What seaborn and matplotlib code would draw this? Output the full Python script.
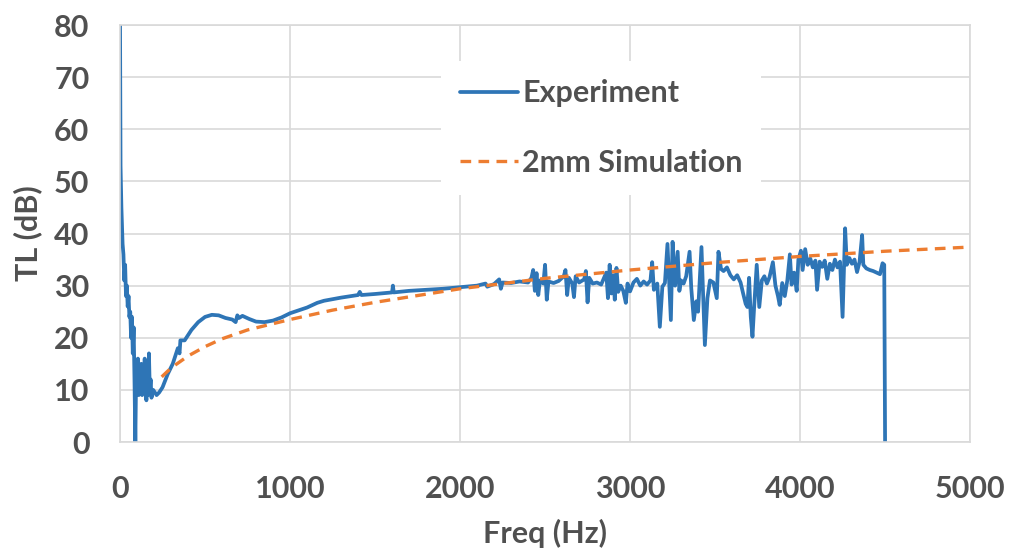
import numpy as np
import pandas as pd
import matplotlib
matplotlib.use("Agg")
import matplotlib.pyplot as plt
import seaborn as sns

exp_freq = [0, 3, 8, 15, 20, 25, 30, 35, 40, 45, 50, 55, 60, 65, 70, 75, 80, 85, 90, 95,
            100, 105, 110, 115, 120, 125, 130, 135, 140, 145, 150, 155, 160, 165, 170, 175,
            180, 185, 195, 205, 215, 230, 250, 280, 310, 340, 350, 355, 380, 420, 460, 500,
            540, 580, 620, 660, 680, 690, 700, 720, 760, 800, 850, 900, 950, 1000, 1100,
            1160, 1200, 1300, 1400, 1410, 1420, 1500, 1600, 1605, 1610, 1700, 1800, 1900,
            2000, 2100, 2150, 2160, 2200, 2230, 2240, 2250, 2300, 2350, 2400, 2420, 2430,
            2440, 2450, 2460, 2470, 2490, 2500, 2510, 2520, 2550, 2580, 2610, 2620, 2630,
            2640, 2660, 2670, 2680, 2700, 2730, 2740, 2750, 2760, 2780, 2805, 2830, 2860,
            2870, 2880, 2890, 2900, 2910, 2920, 2930, 2945, 2960, 2975, 2985, 3000, 3020,
            3040, 3060, 3080, 3100, 3120, 3130, 3140, 3160, 3175, 3190, 3205, 3220, 3230,
            3240, 3250, 3265, 3280, 3290, 3300, 3315, 3330, 3350, 3360, 3375, 3390, 3400,
            3420, 3430, 3440, 3455, 3470, 3490, 3510, 3520, 3535, 3550, 3570, 3590, 3610,
            3630, 3650, 3665, 3680, 3690, 3700, 3710, 3720, 3730, 3745, 3760, 3775, 3790,
            3805, 3820, 3840, 3855, 3870, 3880, 3895, 3910, 3925, 3940, 3950, 3965, 3980,
            3990, 4005, 4015, 4030, 4045, 4060, 4075, 4090, 4100, 4115, 4130, 4145, 4160,
            4175, 4190, 4205, 4220, 4235, 4250, 4265, 4275, 4290, 4305, 4320, 4335, 4350,
            4365, 4372, 4390, 4410, 4430, 4450, 4470, 4485, 4495, 4500]
exp_tl = [80, 53, 45, 38, 36, 31, 34, 28, 30, 26, 28, 24, 25, 20, 24, 17, 22, 12, 0, 14,
          11, 16, 9, 13, 10, 15, 9, 12, 10, 16, 11, 8, 13, 9, 17, 10,
          12, 8.5, 10, 9.5, 9, 9.5, 10.5, 13, 15, 18, 17, 19.5, 19.5, 21.5, 23, 24,
          24.4, 24.3, 23.8, 23.5, 23, 24.3, 23.8, 24.2, 23.6, 23.1, 23, 23.3, 23.9, 24.7, 25.8,
          26.7, 27.1, 27.7, 28.2, 28.8, 28.2, 28.4, 28.7, 30, 28.7, 29, 29.2, 29.4,
          29.7, 30.0, 30.4, 29.8, 30.3, 31.2, 29.4, 30.6, 30.5, 30.8, 30.6, 31.5, 33.0,
          29.0, 32.4, 28.2, 31.0, 30.4, 34.0, 27.3, 30.8, 30.5, 30.9, 31.8, 33.0, 28.2,
          31.5, 30.4, 27.8, 31.8, 30.6, 31.2, 32.8, 26.8, 31.5, 30.4, 30.6, 30.2, 32.5,
          27.6, 34.0, 28.5, 32.0, 27.3, 33.4, 28.8, 30.0, 29.0, 26.7, 30.4, 28.9, 30.6,
          31.3, 30.0, 30.8, 30.2, 31.0, 34.5, 29.2, 30.4, 22.1, 29.8, 30.5, 38.0, 30.8,
          23.4, 38.4, 30.0, 36.5, 29.0, 31.0, 30.4, 31.8, 36.5, 29.5, 23.4, 27.0, 25.0,
          37.4, 28.0, 18.6, 27.6, 31.0, 30.6, 27.6, 36.5, 33.2, 32.8, 33.5, 32.0, 31.2,
          32.0, 30.6, 28.5, 26.5, 25.9, 31.5, 24.0, 20.2, 26.0, 34.0, 25.9, 31.0, 31.8,
          30.4, 31.6, 34.5, 30.0, 28.0, 26.3, 30.5, 28.0, 31.0, 36.0, 30.2, 32.5, 29.0,
          35.0, 36.7, 33.0, 37.0, 34.0, 35.2, 33.5, 34.8, 29.2, 34.6, 33.6, 34.8, 31.3,
          34.2, 33.0, 35.0, 33.5, 34.6, 24.0, 41.0, 34.0, 35.3, 34.2, 35.0, 32.6, 34.6,
          39.7, 34.0, 33.3, 33.0, 32.8, 32.5, 32.2, 34.3, 34.0, 0.0]

# 2mm simulation curve
sim_freq = [245, 300, 400, 500, 600, 750, 1000, 1250, 1500, 1750, 2000, 2250, 2500,
            2750, 3000, 3250, 3500, 3750, 4000, 4250, 4500, 4750, 5000]
sim_tl = [12.5, 14.2, 16.5, 18.3, 19.8, 21.5, 23.5, 25.3, 26.8, 28.1, 29.4, 30.4, 31.4,
          32.2, 33.0, 33.7, 34.4, 35.0, 35.6, 36.1, 36.6, 37.0, 37.4]

exp_df = pd.DataFrame({"Freq": exp_freq, "TL": exp_tl})
sim_df = pd.DataFrame({"Freq": sim_freq, "TL": sim_tl})

sns.set_style("whitegrid", {"grid.color": "#D9D9D9"})
plt.rcParams['font.family'] = ['Lato', 'DejaVu Sans']
txt = "#505050"

fig = plt.figure(figsize=(10.19, 5.51), dpi=100)
ax = fig.add_axes([0.1178, 0.1978, 0.8342, 0.7568])

sns.lineplot(data=exp_df, x="Freq", y="TL", ax=ax, color="#2E75B6", linewidth=2.7,
             estimator=None, label="Experiment")
sns.lineplot(data=sim_df, x="Freq", y="TL", ax=ax, color="#ED7D31", linewidth=2.4,
             estimator=None, linestyle=(0, (3.2, 2.2)), label="2mm Simulation")

ax.set_xlim(0, 5000)
ax.set_ylim(0, 80)
ax.set_xticks(range(0, 5001, 1000))
ax.set_yticks(range(0, 81, 10))
ax.grid(True, color="#D9D9D9", linewidth=1.2)
for s in ax.spines.values():
    s.set_color("#D9D9D9")
    s.set_linewidth(1.2)

ax.tick_params(axis="x", length=0, pad=24, labelsize=22, labelcolor=txt)
ax.tick_params(axis="y", length=0, pad=22, labelsize=22, labelcolor=txt)
for lab in ax.get_xticklabels() + ax.get_yticklabels():
    lab.set_fontweight("bold")

ax.set_xlabel("Freq (Hz)", fontsize=22, fontweight="bold", color=txt, labelpad=11)
ax.set_ylabel("TL (dB)", fontsize=22, fontweight="bold", color=txt)
ax.yaxis.set_label_coords(-0.092, 0.5)

leg = ax.legend(loc="upper left", bbox_to_anchor=(0.36, 0.95), frameon=True,
                facecolor="white", edgecolor="none", framealpha=1, fancybox=False,
                prop={"weight": "bold", "size": 22}, labelcolor=txt,
                handlelength=1.9, handletextpad=0.15, labelspacing=1.35, borderpad=0.6)

fig.savefig("out.png", dpi=100)
